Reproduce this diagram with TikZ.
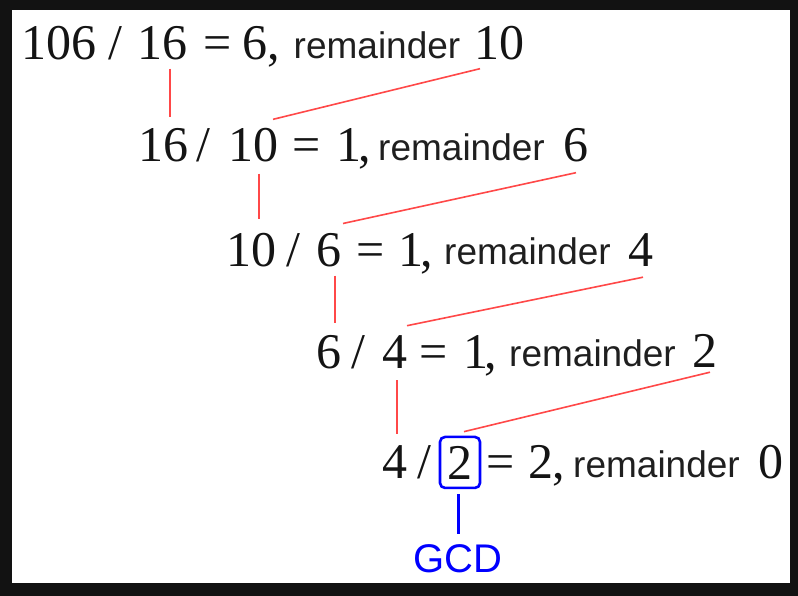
\documentclass[tikz,border=0pt]{standalone}
\usepackage{fontspec}
\newfontfamily\sansf{Liberation Sans}
\newfontfamily\seriff{Liberation Serif}
\usetikzlibrary{calc}
\definecolor{linered}{RGB}{255,72,72}
\tikzset{
  num/.style={anchor=base, inner sep=0pt, text=black!92, font=\seriff\fontsize{50}{60}\selectfont},
  word/.style={anchor=base, inner sep=0pt, text=black!88, font=\sansf\fontsize{37}{44}\selectfont},
  redline/.style={draw=linered, line width=1.6pt},
  gcdline/.style={draw=blue, line width=3pt},
  gcdbox/.style={num, draw=blue, line width=2.6pt, rounded corners=5pt, minimum width=40pt, minimum height=51pt},
  gcdtext/.style={anchor=base, inner sep=0pt, text=blue, font=\sansf\fontsize{40}{48}\selectfont},
}
\begin{document}
\begin{tikzpicture}[x=1pt,y=-1pt]
\useasboundingbox (0,0) rectangle (798,596);
\fill[black!93] (0,0) rectangle (798,596);
\fill[white] (12,10) rectangle (790,583);

% row 1
\node[num] (a1) at (59,60) {106};
\node[num] (s1) at (115.5,60) {/};
\node[num] (b1) at (162.5,60) {16};
\node[num] (e1) at (217.5,60) {=};
\node[num] (q1) at (255,60) {6};
\node[num] (c1) at (274,60) {,};
\node[word] (w1) at (377,59) {remainder};
\node[num] (r1) at (499,60) {10};

% row 2
\node[num] (a2) at (163.5,162) {16};
\node[num] (s2) at (203,162) {/};
\node[num] (b2) at (253.5,162) {10};
\node[num] (e2) at (306.5,162) {=};
\node[num] (q2) at (348.5,162) {1};
\node[num] (c2) at (365,162) {,};
\node[word] (w2) at (461.5,160.5) {remainder};
\node[num] (r2) at (576,162) {6};

% row 3
\node[num] (a3) at (251.5,266) {10};
\node[num] (s3) at (293.5,266) {/};
\node[num] (b3) at (329,266) {6};
\node[num] (e3) at (370.5,266) {=};
\node[num] (q3) at (411,266) {1};
\node[num] (c3) at (427,266) {,};
\node[word] (w3) at (527.5,264.5) {remainder};
\node[num] (r3) at (640.5,266) {4};

% row 4
\node[num] (a4) at (328.5,368) {6};
\node[num] (s4) at (358.5,368) {/};
\node[num] (b4) at (395,368) {4};
\node[num] (e4) at (434,368) {=};
\node[num] (q4) at (476,368) {1};
\node[num] (c4) at (491,368) {,};
\node[word] (w4) at (592.5,366.5) {remainder};
\node[num] (r4) at (705,367) {2};

% row 5
\node[num] (a5) at (395,478) {4};
\node[num] (s5) at (424,478) {/};
\node[gcdbox] (b5) at (460,479) {2};
\node[num] (e5) at (501,478) {=};
\node[num] (q5) at (540.5,478) {2};
\node[num] (c5) at (559,478) {,};
\node[word] (w5) at (656.5,477) {remainder};
\node[num] (r5) at (771,478) {0};

\node[gcdtext] (gcd) at (458,572) {GCD};

% connectors
\draw[redline] ($(b1.south)+(7.5,8)$) -- ($(a2.north)+(6.5,-11.2)$);
\draw[redline] ($(b2.north)+(19.5,-9.2)$) -- ($(r1.south)+(-19,8)$);
\draw[redline] ($(b2.south)+(5.5,11)$) -- ($(a3.north)+(7.5,-13.2)$);
\draw[redline] ($(b3.north)+(14,-9.2)$) -- ($(r2.south)+(0,10)$);
\draw[redline] ($(b3.south)+(6,9)$) -- ($(a4.north)+(6.5,-11.2)$);
\draw[redline] ($(b4.north)+(12,-9.2)$) -- ($(r3.south)+(2.5,11)$);
\draw[redline] ($(b4.south)+(2,12)$) -- ($(a5.north)+(2,-11.2)$);
\draw[redline] ($(b5.north)+(4,-4)$) -- ($(r4.south)+(5,5)$);
\draw[gcdline] ($(b5.south)+(-2,5)$) -- ($(gcd.north)+(0,-10)$);
\end{tikzpicture}
\end{document}
